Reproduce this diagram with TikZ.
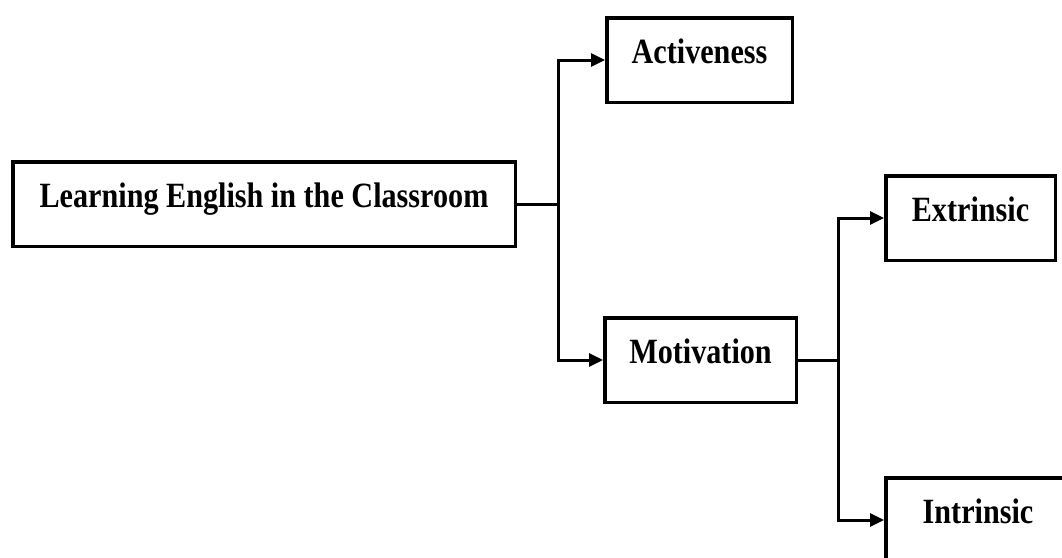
\documentclass[tikz,border=0pt]{standalone}
\usepackage{fontspec}
\usetikzlibrary{arrows.meta}
\newfontfamily\boxfont[FakeStretch=0.85]{Liberation Serif}
\tikzset{
  box/.style={draw=black, line width=3.5pt, fill=white, rectangle, inner sep=0pt,
    minimum height=84.5pt, text height=20pt, text depth=14pt,
    font=\boxfont\bfseries\fontsize{35.5}{40}\selectfont},
  link/.style={draw=black, line width=3pt},
  arr/.style={link, -{Triangle[length=14pt,width=13pt]}}
}
\begin{document}
\begin{tikzpicture}[x=1pt,y=-1pt]
\useasboundingbox (0,0) rectangle (1062,557);
\fill[white] (0,0) rectangle (1062,557);
\clip (0,0) rectangle (1062,557);
\node[box, minimum width=502.5pt] (main) at (264,204) {Learning English in the Classroom};
\node[box, minimum width=185.5pt] (act) at (699.5,60) {Activeness};
\node[box, minimum width=191.5pt] (mot) at (700.5,360) {Motivation};
\node[box, minimum width=169.5pt] (ext) at (970.5,218) {Extrinsic};
\node[box, minimum width=184.5pt] (int) at (978,520) {Intrinsic};
\coordinate (j1) at (558,204);
\coordinate (j2) at (838,360);
\draw[link] (main.east) -- (j1);
\draw[arr] (j1) |- (act.west);
\draw[arr] (j1) |- (mot.west);
\draw[link] (mot.east) -- (j2);
\draw[arr] (j2) |- (ext.west);
\draw[arr] (j2) |- (int.west);
\end{tikzpicture}
\end{document}
